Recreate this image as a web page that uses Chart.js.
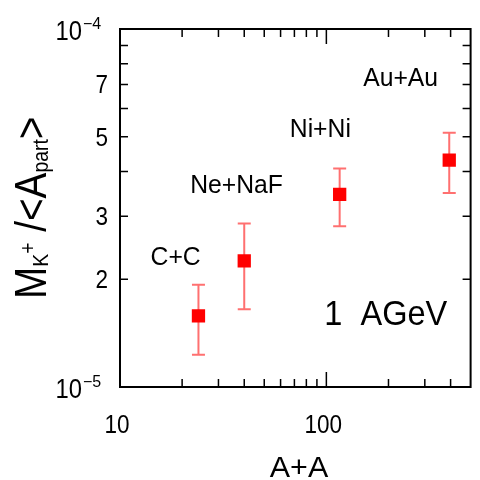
<!DOCTYPE html>
<html lang="en">

<head>
    <meta charset="UTF-8">
    <title>K+ multiplicity per participant vs system size</title>
    <script src="https://cdn.jsdelivr.net/npm/chart.js@4.4.0/dist/chart.umd.min.js"></script>
    <style>
        body {
            margin: 0;
            background: #ffffff;
        }

        #kaonChart {
            display: block;
        }
    </style>
</head>

<body>
    <canvas id="kaonChart" width="480" height="480"></canvas>

    <script>
        // collision systems and their mass number A+A
        const systems = ['C+C', 'Ne+NaF', 'Ni+Ni', 'Au+Au'];
        const aPlusA = [24, 40, 116, 394];
        // M(K+)/<A_part> with lower / upper error limits
        const ratio = [1.58e-5, 2.25e-5, 3.45e-5, 4.3e-5];
        const errLow = [1.23e-5, 1.65e-5, 2.81e-5, 3.48e-5];
        const errHigh = [1.93e-5, 2.86e-5, 4.08e-5, 5.13e-5];

        // where each system name is written (data coords: centre x, baseline y)
        const labelX = [18.6, 36.7, 93.5, 229];
        const labelY = [2.19e-5, 3.48e-5, 4.99e-5, 6.93e-5];

        // axis ticks
        const xMajor = [10, 100];
        const xMinor = [20, 30, 40, 50, 60, 70, 80, 90, 200, 300, 400];
        const yMinor = [2e-5, 3e-5, 4e-5, 5e-5, 6e-5, 7e-5, 8e-5, 9e-5];
        const yLabelled = [2, 3, 5, 7];

        const FONT = '"Liberation Sans", Arial, sans-serif';

        // text squeezed horizontally, like the old plotting fonts
        function squeezed(ctx, str, x, y, size, sx, align) {
            ctx.save();
            ctx.font = size + 'px ' + FONT;
            const w = ctx.measureText(str).width * sx;
            let left = x;
            if (align === 'center') left = x - w / 2;
            if (align === 'right') left = x - w;
            ctx.translate(left, y);
            ctx.scale(sx, 1);
            ctx.textAlign = 'left';
            ctx.textBaseline = 'alphabetic';
            ctx.fillText(str, 0, 0);
            ctx.restore();
            return w;
        }

        const bgPlugin = {
            id: 'bg',
            beforeDraw(chart) {
                const ctx = chart.ctx;
                ctx.save();
                ctx.fillStyle = '#ffffff';
                ctx.fillRect(0, 0, chart.width, chart.height);
                ctx.restore();
            }
        };

        const errorBars = {
            id: 'errorBars',
            beforeDatasetsDraw(chart) {
                const ctx = chart.ctx;
                const xs = chart.scales.x, ys = chart.scales.y;
                const cap = 6.5;
                ctx.save();
                ctx.strokeStyle = '#ff7070';
                ctx.lineWidth = 2;
                aPlusA.forEach((a, i) => {
                    const px = xs.getPixelForValue(a);
                    const lo = ys.getPixelForValue(errLow[i]);
                    const hi = ys.getPixelForValue(errHigh[i]);
                    ctx.beginPath();
                    ctx.moveTo(px, lo);
                    ctx.lineTo(px, hi);
                    ctx.moveTo(px - cap, lo);
                    ctx.lineTo(px + cap, lo);
                    ctx.moveTo(px - cap, hi);
                    ctx.lineTo(px + cap, hi);
                    ctx.stroke();
                });
                ctx.restore();
            }
        };

        const frameAndText = {
            id: 'frameAndText',
            afterDraw(chart) {
                const ctx = chart.ctx;
                const area = chart.chartArea;
                const xs = chart.scales.x, ys = chart.scales.y;
                ctx.save();
                ctx.strokeStyle = '#000000';
                ctx.fillStyle = '#000000';

                // box
                ctx.lineWidth = 2;
                ctx.strokeRect(area.left, area.top, area.right - area.left, area.bottom - area.top);

                // inward ticks on all four sides
                ctx.lineWidth = 1.5;
                ctx.beginPath();
                const xTick = (v, len) => {
                    const px = xs.getPixelForValue(v);
                    ctx.moveTo(px, area.bottom);
                    ctx.lineTo(px, area.bottom - len);
                    ctx.moveTo(px, area.top);
                    ctx.lineTo(px, area.top + len);
                };
                xMinor.forEach(v => xTick(v, 8));
                xMajor.forEach(v => xTick(v, 15));
                yMinor.forEach(v => {
                    const py = ys.getPixelForValue(v);
                    ctx.moveTo(area.left, py);
                    ctx.lineTo(area.left + 8, py);
                    ctx.moveTo(area.right, py);
                    ctx.lineTo(area.right - 8, py);
                });
                ctx.stroke();

                // x tick labels
                xMajor.forEach(v => {
                    squeezed(ctx, String(v), xs.getPixelForValue(v) - 3, area.bottom + 46, 25, 0.9, 'center');
                });

                // y tick labels
                yLabelled.forEach(v => {
                    const py = ys.getPixelForValue(v * 1e-5);
                    squeezed(ctx, String(v), area.left - 12, py + 9, 25, 0.9, 'right');
                });
                [[1e-5, '5'], [1e-4, '4']].forEach(([v, exp]) => {
                    const py = ys.getPixelForValue(v);
                    squeezed(ctx, '10', 82, py + 11, 28, 0.85, 'right');
                    squeezed(ctx, '\u2212' + exp, 83, py, 16, 1, 'left');
                });

                // x axis title
                squeezed(ctx, 'A+A', 299, 477, 29, 1.05, 'center');

                // y axis title: M_{K+}/<A_part>, rotated
                ctx.save();
                ctx.translate(46, 299);
                ctx.rotate(-Math.PI / 2);
                ctx.scale(0.88, 1);
                let cx = 0;
                const put = (str, size, dy) => {
                    ctx.font = size + 'px ' + FONT;
                    ctx.fillText(str, cx, dy);
                    cx += ctx.measureText(str).width;
                };
                put('M', 44, 0);
                put('K', 22, 2);
                put('+', 22, -11);
                put(' /<A', 44, 0);
                put('part', 22, 2);
                put('>', 44, 0);
                ctx.restore();

                // system names and beam energy
                systems.forEach((s, i) => {
                    squeezed(ctx, s, xs.getPixelForValue(labelX[i]), ys.getPixelForValue(labelY[i]), 26, 0.95, 'center');
                });
                squeezed(ctx, '1  AGeV', xs.getPixelForValue(194), ys.getPixelForValue(1.49e-5), 35, 0.93, 'center');

                ctx.restore();
            }
        };

        const ctxKaon = document.getElementById('kaonChart').getContext('2d');
        const kaonChart = new Chart(ctxKaon, {
            type: 'scatter',
            data: {
                datasets: [{
                    label: 'M(K+)/<A_part>',
                    data: aPlusA.map((a, i) => ({ x: a, y: ratio[i] })),
                    pointStyle: 'rect',
                    pointRadius: 9.4,
                    pointHoverRadius: 9.4,
                    backgroundColor: '#ff0000',
                    borderWidth: 0
                }]
            },
            options: {
                responsive: false,
                animation: false,
                layout: {
                    padding: { left: 120, top: 29, right: 2, bottom: 93 }
                },
                plugins: {
                    legend: { display: false },
                    tooltip: { enabled: false }
                },
                scales: {
                    x: { type: 'logarithmic', min: 10, max: 500, display: false },
                    y: { type: 'logarithmic', min: 1e-5, max: 1e-4, display: false }
                }
            },
            plugins: [bgPlugin, errorBars, frameAndText]
        });
    </script>
</body>

</html>
